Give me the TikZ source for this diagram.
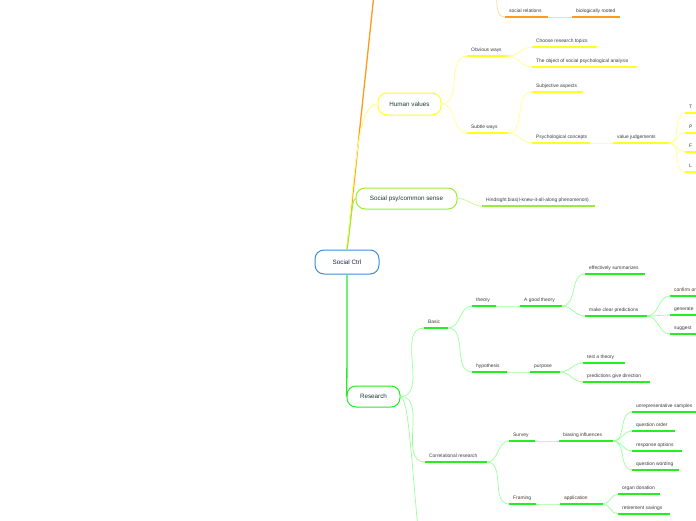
\documentclass[tikz,border=0pt]{standalone}
\usepackage{fontspec}
\setmainfont{Liberation Sans}
\definecolor{orn}{HTML}{FF9A1A}
\definecolor{ornl}{HTML}{FFD9A8}
\definecolor{yel}{HTML}{FFFF22}
\definecolor{yell}{HTML}{FFFF90}
\definecolor{grn}{HTML}{22EE22}
\definecolor{grnl}{HTML}{99FF99}
\definecolor{limec}{HTML}{99EE33}
\definecolor{limel}{HTML}{C8F590}
\definecolor{blu}{HTML}{3B8ED8}
\definecolor{txt}{HTML}{3A3A3A}
\definecolor{rtxt}{HTML}{1E3D33}
\definecolor{ctxt}{HTML}{1A2A4A}
\tikzset{
  lbl/.style={anchor=base west, inner sep=0pt, font=\fontsize{4.9}{5.5}\selectfont, text=txt},
  ul/.style={line width=1.8pt, draw=#1},
  cn/.style={line width=0.7pt, draw=#1},
  rootbox/.style={draw=#1, line width=1pt, rounded corners=9pt, fill=white,
    font=\fontsize{6.3}{7}\selectfont, text=rtxt, inner sep=0pt},
}
% name, x1, x2, y, text, colour
\newcommand\tp[6]{%
  \coordinate (#1-l) at (#2,#4);
  \coordinate (#1-r) at (#3,#4);
  \node[lbl] (#1) at (#2+4,#4-5) {#5};
  \draw[ul=#6] (#1-l) -- (#1-r);}
\begin{document}
\begin{tikzpicture}[x=1pt,y=-1pt]
\useasboundingbox (0,0) rectangle (696,520);
\clip (0,0) rectangle (696,520);

% root nodes
\node[rootbox=blu, minimum width=64pt, minimum height=24pt, text=ctxt] (c) at (347,262) {Social Ctrl};
\node[rootbox=yel, minimum width=63pt, minimum height=22pt] (hv) at (409.5,104) {Human values};
\node[rootbox=limec, minimum width=101pt, minimum height=21pt] (sp) at (406.5,198.5) {Social psy/common sense};
\node[rootbox=grn, minimum width=53pt, minimum height=21pt] (res) at (373.5,396.5) {Research};

\coordinate (otop) at (374,-6);
\coordinate (otop2) at (496,-6);
\coordinate (rbot) at (418,530);

% topics: orange
\tp{sr}{505}{548}{17}{social relations}{orn}
\tp{br}{572}{620}{17}{biologically rooted}{orn}

% Human values
\tp{ob}{467}{508}{56}{Obvious ways}{yel}
\tp{crt}{532}{597}{47}{Choose research topics}{yel}
\tp{obj}{532}{637}{67}{The object of social psychological analysis}{yel}
\tp{sw}{467}{508}{133}{Subtle ways}{yel}
\tp{sa}{532}{583}{92}{Subjective aspects}{yel}
\tp{pc}{532}{590}{143}{Psychological concepts}{yel}
\tp{vj}{613}{669}{143}{value judgements}{yel}
\tp{va}{685}{710}{113}{T}{yel}
\tp{vb}{685}{710}{133}{P}{yel}
\tp{vc}{685}{710}{152}{F}{yel}
\tp{vd}{685}{710}{172}{L}{yel}

% Social psy
\tp{hb}{482}{595}{206}{Hindsight bias(I-knew-it-all-along phenomenon)}{limec}

% Research
\tp{ba}{424}{448}{328}{Basic}{grn}
\tp{th}{472}{496}{306}{theory}{grn}
\tp{gt}{520}{562}{306}{A good theory}{grn}
\tp{es}{585}{645}{274}{effectively summarizes}{grn}
\tp{mc}{585}{647}{316}{make clear predictions}{grn}
\tp{ca}{670}{710}{296}{confirm or}{grn}
\tp{cb}{670}{710}{315}{generate}{grn}
\tp{cc}{670}{710}{334}{suggest}{grn}
\tp{hy}{472}{507}{372}{hypothesis}{grn}
\tp{pu}{530}{560}{372}{purpose}{grn}
\tp{tt}{583}{625}{363}{test a theory}{grn}
\tp{pg}{583}{650}{382}{predictions give direction}{grn}
\tp{co}{425}{487}{462}{Correlational research}{grn}
\tp{sv}{509}{535}{441}{Survey}{grn}
\tp{bi}{559}{613}{441}{biasing influences}{grn}
\tp{un}{632}{710}{412}{unrepresentative samples}{grn}
\tp{qo}{632}{675}{431}{question order}{grn}
\tp{ro}{632}{682}{451}{response options}{grn}
\tp{qw}{632}{679}{470}{question wording}{grn}
\tp{fr}{509}{536}{504}{Framing}{grn}
\tp{ap}{560}{603}{504}{application}{grn}
\tp{od}{618}{660}{494}{organ donation}{grn}
\tp{rs}{618}{670}{514}{retirement savings}{grn}

% connectors from the centre
\draw[line width=1.3pt, draw=orn] (c.north) -- (otop);
\draw[cn=yell, line width=1pt] (c.north) .. controls (356,150) and (360,104) .. (hv.west);
\draw[cn=limec, line width=1pt] (c.north) .. controls (352,215) and (352,199) .. (sp.west);
\draw[line width=1.3pt, draw=grn] (c.south) .. controls (347,330) and (347,396) .. (res.west);

% orange
\draw[cn=ornl] (otop2) to[out=-80,in=180] (sr-l);
\draw[cn=ornl] (sr-r) -- (br-l);

% Human values connectors
\foreach \a/\b in {hv.east/ob-l, hv.east/sw-l, ob-r/crt-l, ob-r/obj-l, sw-r/sa-l, sw-r/pc-l,
  pc-r/vj-l, vj-r/va-l, vj-r/vb-l, vj-r/vc-l, vj-r/vd-l}
  \draw[cn=yell] (\a) to[out=0,in=180] (\b);

% Social psy
\draw[cn=limel] (sp.east) to[out=0,in=180] (hb-l);

% Research connectors
\foreach \a/\b in {res.east/ba-l, res.east/co-l, ba-r/th-l, ba-r/hy-l, th-r/gt-l, gt-r/es-l, gt-r/mc-l,
  mc-r/ca-l, mc-r/cb-l, mc-r/cc-l, hy-r/pu-l, pu-r/tt-l, pu-r/pg-l, co-r/sv-l, co-r/fr-l,
  sv-r/bi-l, bi-r/un-l, bi-r/qo-l, bi-r/ro-l, bi-r/qw-l, fr-r/ap-l, ap-r/od-l, ap-r/rs-l}
  \draw[cn=grnl] (\a) to[out=0,in=180] (\b);
\draw[cn=grnl] (res.east) .. controls (408,400) and (410,440) .. (rbot);
\end{tikzpicture}
\end{document}
